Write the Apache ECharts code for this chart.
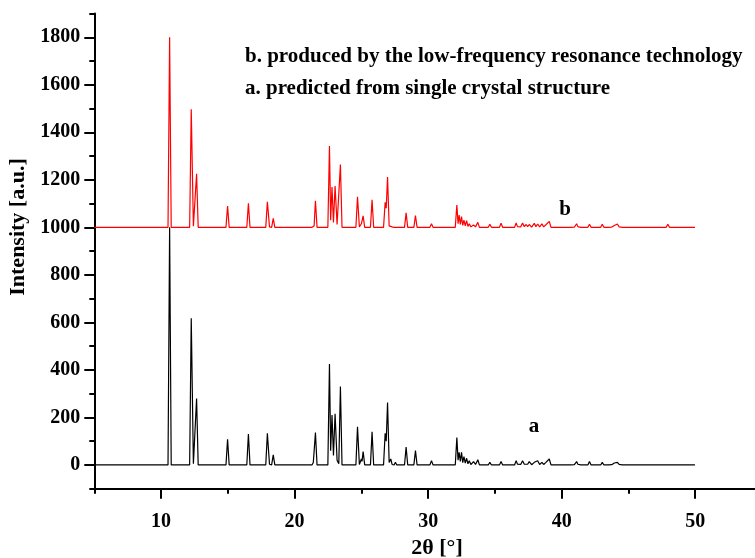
<!DOCTYPE html>
<html><head><meta charset="utf-8">
<script src="https://cdn.jsdelivr.net/npm/echarts@6/dist/echarts.min.js"></script>
<style>html,body{margin:0;padding:0;background:#fff}#c{width:755px;height:558px}</style>
</head><body><div id="c"></div>
<script>
// tick values
const xMajorTicks = [10, 20, 30, 40, 50];
const xMinorTicks = [5, 15, 25, 35, 45, 55];
const yMajorTicks = [0, 200, 400, 600, 800, 1000, 1200, 1400, 1600, 1800];
const yMinorTicks = [-100, 100, 300, 500, 700, 900, 1100, 1300, 1500, 1700, 1900];

// pattern a: predicted from single crystal structure (baseline 0)
const patternA = [
 [5,0],
 [10.52,0],[10.64,1000],[10.76,0],
 [12.14,0],[12.26,617],[12.42,5],[12.66,280],[12.78,0],
 [14.86,0],[14.98,108],[15.10,0],
 [16.42,0],[16.54,130],[16.66,0],
 [17.84,0],[17.96,133],[18.12,3],[18.28,0],[18.40,42],[18.52,0],
 [21.30,0],[21.40,10],[21.46,8],[21.56,136],[21.68,0],
 [22.49,0],[22.61,425],[22.70,60],[22.80,210],[22.91,40],[23.03,215],[23.18,20],[23.31,5],[23.43,330],[23.55,0],
 [24.59,0],[24.71,161],[24.85,2],[25.00,25],[25.05,15],[25.13,56],[25.25,0],
 [25.68,0],[25.80,140],[25.92,0],
 [26.66,0],[26.78,133],[26.86,100],[26.96,263],[27.08,10],[27.20,25],[27.30,2],[27.45,0],[27.55,11],[27.65,0],
 [28.23,0],[28.35,75],[28.47,0],
 [28.93,0],[29.05,60],[29.17,0],
 [30.13,0],[30.25,18],[30.37,0],
 [32.03,0],[32.15,115],[32.24,20],[32.32,53],[32.41,15],[32.50,53],[32.59,10],[32.68,35],[32.78,8],[32.88,28],[32.98,5],[33.08,18],[33.20,2],[33.40,14],[33.55,2],[33.72,22],[33.84,0],
 [34.50,0],[34.62,11],[34.74,0],
 [35.34,0],[35.46,14],[35.58,0],
 [35.90,0],[35.99,5],[36.10,0],
 [36.47,0],[36.59,18],[36.69,3],[36.79,10],[36.93,2],[37.07,18],[37.20,3],[37.34,11],[37.45,3],[37.57,14],[37.75,1],[37.95,11],[38.07,3],[38.20,18],[38.35,2],[38.52,11],[38.65,2],[38.80,10],[38.93,2],[39.07,25],[39.20,0],
 [40.70,0],[40.80,5],[40.95,1],[41.12,14],[41.21,3],[41.30,6],[41.42,0],
 [41.96,0],[42.08,14],[42.20,0],
 [42.53,0],[42.63,6],[42.75,0],
 [42.92,0],[43.04,11],[43.16,0],
 [43.50,0],[43.61,6],[43.75,1],[43.94,8],[44.05,2],[44.17,11],[44.30,2],[44.42,6],[44.55,0],
 [45.17,0],[45.29,5],[45.41,0],
 [46.07,0],[46.19,5],[46.31,0],
 [46.88,0],[47.00,4],[47.12,0],
 [47.83,0],[47.95,8],[48.07,0],
 [48.88,0],[49.00,3],[49.12,0],
 [49.74,0],[49.86,3],[49.98,0],[50,0]
];

// pattern b: produced by low-frequency resonance technology (plotted on 1000 baseline)
const patternB = [
 [5,1000],
 [10.52,1000],[10.64,1800],[10.76,1000],
 [12.14,1000],[12.26,1497],[12.42,1005],[12.66,1225],[12.78,1000],
 [14.86,1000],[14.98,1090],[15.10,1000],
 [16.42,1000],[16.54,1101],[16.66,1000],
 [17.84,1000],[17.96,1108],[18.12,1002],[18.28,1000],[18.40,1038],[18.52,1000],
 [21.30,1000],[21.40,1008],[21.46,1006],[21.56,1112],[21.68,1000],
 [22.49,1000],[22.61,1342],[22.70,1030],[22.80,1170],[22.91,1020],[23.03,1174],[23.18,1012],[23.31,1004],[23.43,1264],[23.55,1000],
 [24.59,1000],[24.71,1129],[24.85,1002],[25.00,1015],[25.05,1010],[25.13,1048],[25.25,1000],
 [25.68,1000],[25.80,1116],[25.92,1000],
 [26.66,1000],[26.78,1105],[26.86,1080],[26.96,1212],[27.08,1006],[27.20,1012],[27.30,1002],[27.45,1000],[27.55,1008],[27.65,1000],
 [28.23,1000],[28.35,1061],[28.47,1000],
 [28.93,1000],[29.05,1050],[29.17,1000],
 [30.13,1000],[30.25,1015],[30.37,1000],
 [32.03,1000],[32.15,1094],[32.24,1015],[32.32,1052],[32.41,1012],[32.50,1045],[32.59,1008],[32.68,1030],[32.78,1006],[32.88,1028],[32.98,1004],[33.08,1015],[33.20,1002],[33.40,1010],[33.55,1002],[33.72,1021],[33.84,1000],
 [34.50,1000],[34.62,1013],[34.74,1000],
 [35.34,1000],[35.46,1017],[35.58,1000],
 [35.90,1000],[35.99,1004],[36.10,1000],
 [36.47,1000],[36.59,1018],[36.69,1003],[36.79,1009],[36.93,1002],[37.07,1018],[37.20,1003],[37.34,1012],[37.45,1003],[37.57,1012],[37.75,1001],[37.95,1017],[38.07,1003],[38.20,1014],[38.35,1002],[38.52,1015],[38.65,1002],[38.80,1010],[38.93,1002],[39.07,1025],[39.20,1000],
 [40.70,1000],[40.80,1004],[40.95,1001],[41.12,1015],[41.21,1003],[41.30,1006],[41.42,1000],
 [41.96,1000],[42.08,1013],[42.20,1000],
 [42.53,1000],[42.63,1008],[42.75,1000],
 [42.92,1000],[43.04,1013],[43.16,1000],
 [43.50,1000],[43.61,1007],[43.75,1001],[43.94,1008],[44.05,1002],[44.17,1014],[44.30,1002],[44.42,1006],[44.55,1000],
 [45.17,1000],[45.29,1006],[45.41,1000],
 [46.07,1000],[46.19,1006],[46.31,1000],
 [46.88,1000],[47.00,1004],[47.12,1000],
 [47.83,1000],[47.95,1013],[48.07,1000],
 [48.88,1000],[49.00,1004],[49.12,1000],
 [49.74,1000],[49.86,1003],[49.98,1000],[50,1000]
];

const legendLines = [
  'b. produced by the low-frequency resonance technology',
  'a. predicted from single crystal structure'
];

const FF = '"Liberation Serif", "Times New Roman", serif';
const chart = echarts.init(document.getElementById('c'), null, {renderer: 'canvas'});
const axisLineStyle = {color: '#000', width: 2};
const tickLabel = {fontSize: 20, fontWeight: 'bold', fontFamily: FF, color: '#000', formatter: v => String(v)};

chart.setOption({
  animation: false,
  backgroundColor: '#fff',
  grid: {left: 94.3, right: -7, top: 13.5, bottom: 69.3, containLabel: false, outerBoundsMode: 'none'},
  xAxis: [
    {type: 'value', gridIndex: 0, position: 'bottom', min: 5, max: 55,
     axisLine: {show: true, onZero: false, lineStyle: axisLineStyle},
     axisTick: {show: true, customValues: xMajorTicks, length: 10, inside: false, lineStyle: axisLineStyle},
     axisLabel: Object.assign({customValues: xMajorTicks, margin: 23}, tickLabel),
     splitLine: {show: false}},
    {type: 'value', gridIndex: 0, position: 'bottom', min: 5, max: 55,
     axisLine: {show: false, onZero: false},
     axisTick: {show: true, customValues: xMinorTicks, length: 5, inside: false, lineStyle: axisLineStyle},
     axisLabel: {show: false}, splitLine: {show: false}}
  ],
  yAxis: [
    {type: 'value', gridIndex: 0, position: 'left', min: -100, max: 1900,
     axisLine: {show: true, onZero: false, lineStyle: axisLineStyle},
     axisTick: {show: true, customValues: yMajorTicks, length: 10, inside: false, lineStyle: axisLineStyle},
     axisLabel: Object.assign({customValues: yMajorTicks, margin: 14}, tickLabel),
     splitLine: {show: false}},
    {type: 'value', gridIndex: 0, position: 'left', offset: 0, min: -100, max: 1900,
     axisLine: {show: false, onZero: false},
     axisTick: {show: true, customValues: yMinorTicks, length: 5, inside: false, lineStyle: axisLineStyle},
     axisLabel: {show: false}, splitLine: {show: false}}
  ],
  series: [
    {type: 'line', name: 'a', xAxisIndex: 0, yAxisIndex: 0, data: patternA, showSymbol: false, symbol: 'none',
     lineStyle: {color: '#000', width: 1.2}, itemStyle: {color: '#000'}, silent: true},
    {type: 'line', name: 'b', xAxisIndex: 0, yAxisIndex: 0, data: patternB, showSymbol: false, symbol: 'none',
     lineStyle: {color: '#ff0000', width: 1.2}, itemStyle: {color: '#ff0000'}, silent: true}
  ],
  graphic: [
    {type: 'text', x: 245, y: 57, style: {text: legendLines[0], font: 'bold 21px ' + FF, fill: '#000', align: 'left', verticalAlign: 'middle'}},
    {type: 'text', x: 245, y: 89, style: {text: legendLines[1], font: 'bold 21px ' + FF, fill: '#000', align: 'left', verticalAlign: 'middle'}},
    {type: 'text', x: 565, y: 210, style: {text: 'b', font: 'bold 21px ' + FF, fill: '#000', align: 'center', verticalAlign: 'middle'}},
    {type: 'text', x: 534, y: 427, style: {text: 'a', font: 'bold 21px ' + FF, fill: '#000', align: 'center', verticalAlign: 'middle'}},
    {type: 'text', x: 437, y: 548, style: {text: '2θ [°]', font: 'bold 22px ' + FF, fill: '#000', align: 'center', verticalAlign: 'middle'}},
    {type: 'text', x: 18, y: 227, rotation: Math.PI / 2, style: {text: 'Intensity [a.u.]', font: 'bold 22px ' + FF, fill: '#000', align: 'center', verticalAlign: 'middle'}}
  ]
});
</script>
</body></html>
